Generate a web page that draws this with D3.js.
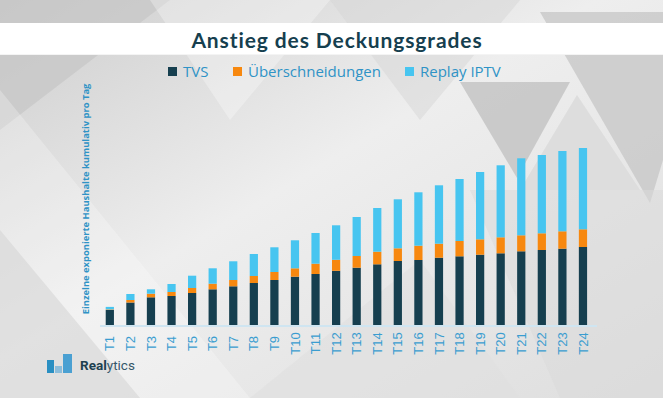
<!DOCTYPE html>
<html>
<head>
<meta charset="utf-8">
<script src="https://cdn.jsdelivr.net/npm/d3@7"></script>
<style>
  html, body { margin: 0; padding: 0; background: #e6e6e6; }
  svg { display: block; }
</style>
</head>
<body>
<svg id="chart" width="663" height="398"></svg>
<script>
// Data (arbitrary units, cumulative households per day)
const days = ["T1","T2","T3","T4","T5","T6","T7","T8","T9","T10","T11","T12",
              "T13","T14","T15","T16","T17","T18","T19","T20","T21","T22","T23","T24"];
const tvs     = [15, 22.5, 27.7, 29, 32, 35.7, 38.7, 42, 45, 48.3, 51, 54.2,
                 57.3, 60.7, 64, 65, 67.3, 68.7, 70.3, 71.7, 73.7, 75, 76.3, 78];
const overlap = [0.6, 2.5, 3.6, 4, 5, 5.6, 6.3, 7, 8, 8.4, 10.3, 11,
                 11.7, 12.6, 12.7, 14.3, 14, 15.3, 15.4, 16, 16, 16.7, 17.4, 17.7];
const replay  = [2.5, 6, 4.4, 8, 12.3, 15.4, 18.7, 22, 24.7, 28, 30.7, 34.5,
                 39, 43.7, 49, 53.4, 58.4, 62, 67.3, 72, 77, 78.3, 80.3, 81.3];
const seriesNames = ["TVS", "Überschneidungen", "Replay IPTV"];
const seriesKeys = ["tvs", "overlap", "replay"];

const colors = { tvs: "#163f4f", overlap: "#f7880f", replay: "#47c5f0" };
const labelBlue = "#2f93c6";

const width = 663, height = 398;
const svg = d3.select("#chart");

// ---- background: soft grey with faceted triangles
const defs = svg.append("defs");
const bg = defs.append("linearGradient").attr("id", "bg")
  .attr("x1", "0%").attr("y1", "0%").attr("x2", "100%").attr("y2", "100%");
bg.append("stop").attr("offset", "0%").attr("stop-color", "#cdcdcd");
bg.append("stop").attr("offset", "45%").attr("stop-color", "#eeeeee");
bg.append("stop").attr("offset", "100%").attr("stop-color", "#dedede");
svg.append("rect").attr("width", width).attr("height", height).attr("fill", "url(#bg)");

const facets = [
  { pts: [[0,0],[170,0],[0,130]], fill: "#c6c6c6", op: 0.7 },
  { pts: [[0,90],[250,398],[0,398]], fill: "#ffffff", op: 0.25 },
  { pts: [[0,230],[140,398],[0,398]], fill: "#d6d6d6", op: 0.6 },
  { pts: [[150,0],[330,0],[230,120]], fill: "#ffffff", op: 0.3 },
  { pts: [[330,0],[520,0],[420,120]], fill: "#d6d6d6", op: 0.5 },
  { pts: [[460,82],[570,82],[517,178]], fill: "#c4c4c4", op: 0.85 },
  { pts: [[540,12],[663,12],[663,160],[650,203]], fill: "#c8c8c8", op: 0.8 },
  { pts: [[577,95],[520,190],[640,190]], fill: "#dadada", op: 0.85 },
  { pts: [[470,190],[663,190],[663,398],[560,398]], fill: "#d9d9d9", op: 0.5 },
  { pts: [[250,398],[420,260],[520,398]], fill: "#e0e0e0", op: 0.6 }
];
svg.append("g").selectAll("polygon")
  .data(facets)
  .join("polygon")
  .attr("points", d => d.pts.map(p => p.join(",")).join(" "))
  .attr("fill", d => d.fill)
  .attr("opacity", d => d.op);

// ---- title band
svg.append("rect")
  .attr("x", 0).attr("y", 23).attr("width", width).attr("height", 31)
  .attr("fill", "#ffffff");
svg.append("line")
  .attr("x1", 0).attr("x2", width).attr("y1", 54.5).attr("y2", 54.5)
  .attr("stroke", "#f4f4f4").attr("stroke-width", 1);
svg.append("text")
  .attr("x", 337).attr("y", 48)
  .attr("text-anchor", "middle")
  .attr("font-family", "Lato, 'DejaVu Sans', sans-serif")
  .attr("font-weight", "bold")
  .attr("font-size", "21px")
  .attr("letter-spacing", "0.9px")
  .attr("fill", "#163f4f")
  .text("Anstieg des Deckungsgrades");

// ---- legend
const legendX = [168, 233, 405];
const legend = svg.append("g").attr("font-family", "'Open Sans', sans-serif");
legend.selectAll("g")
  .data(seriesKeys)
  .join("g")
  .attr("transform", (d, i) => `translate(${legendX[i]}, 67)`)
  .each(function(d, i) {
    const g = d3.select(this);
    g.append("rect").attr("width", 9).attr("height", 9).attr("fill", colors[d]);
    g.append("text").attr("x", 15).attr("y", 9.5)
      .attr("font-size", "15px").attr("fill", labelBlue)
      .text(seriesNames[i]);
  });

// ---- scales
const rows = days.map((d, i) => ({ day: d, tvs: tvs[i], overlap: overlap[i], replay: replay[i] }));
const stacked = d3.stack().keys(seriesKeys)(rows);

const x = d3.scaleBand()
  .domain(days)
  .range([101.6, 591.2])
  .paddingInner(0.6)
  .paddingOuter(0.2);
const y = d3.scaleLinear()
  .domain([0, 180])
  .range([325, 145]);

// baseline
svg.append("line")
  .attr("x1", 100).attr("x2", 597)
  .attr("y1", y(0) + 1).attr("y2", y(0) + 1)
  .attr("stroke", "#cfe5f1").attr("stroke-width", 2);

// ---- bars
svg.append("g")
  .selectAll("g")
  .data(stacked)
  .join("g")
  .attr("fill", d => colors[d.key])
  .selectAll("rect")
  .data(d => d)
  .join("rect")
  .attr("x", d => x(d.data.day))
  .attr("y", d => y(d[1]))
  .attr("width", x.bandwidth())
  .attr("height", d => y(d[0]) - y(d[1]));

// ---- x axis labels (rotated)
const xAxis = svg.append("g")
  .attr("transform", `translate(0, ${y(0)})`)
  .call(d3.axisBottom(x).tickSize(0).tickPadding(0));
xAxis.select(".domain").remove();
xAxis.selectAll("text")
  .attr("transform", "translate(0, 18.5) rotate(-90)")
  .attr("x", 0).attr("y", 0).attr("dy", "0.35em")
  .attr("text-anchor", "middle")
  .attr("font-family", "'Liberation Sans', Arial, sans-serif")
  .attr("font-size", "13px")
  .attr("fill", "#3a9dd0");

// ---- y axis title
svg.append("text")
  .attr("transform", "translate(88.5, 199) rotate(-90)")
  .attr("text-anchor", "middle")
  .attr("font-family", "'Open Sans', sans-serif")
  .attr("font-weight", "bold")
  .attr("font-size", "9.4px")
  .attr("fill", labelBlue)
  .text("Einzelne exponierte Haushalte kumulativ pro Tag");

// ---- logo
const logoBars = [
  { x: 47, w: 7, h: 13, c: "#2a8fc2" },
  { x: 55, w: 7, h: 7, c: "#8bbddb" },
  { x: 63, w: 9, h: 19, c: "#4aa0d2" }
];
svg.append("g").selectAll("rect")
  .data(logoBars)
  .join("rect")
  .attr("x", d => d.x).attr("y", d => 373 - d.h)
  .attr("width", d => d.w).attr("height", d => d.h)
  .attr("fill", d => d.c);
const logoText = svg.append("text")
  .attr("x", 80).attr("y", 370)
  .attr("font-family", "Roboto, sans-serif")
  .attr("font-size", "13.5px")
  .attr("fill", "#1d4050");
logoText.append("tspan").attr("font-weight", "bold").text("Real");
logoText.append("tspan").attr("fill", "#36576a").text("ytics");
</script>
</body>
</html>
